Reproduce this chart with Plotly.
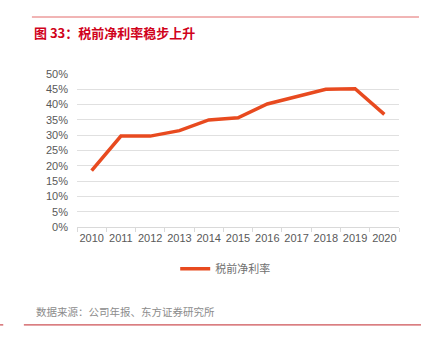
import plotly.graph_objects as go

years = ["2010", "2011", "2012", "2013", "2014", "2015", "2016", "2017", "2018", "2019", "2020"]
pretax_margin = [18.4, 29.7, 29.7, 31.5, 35.0, 35.7, 40.2, 42.6, 45.0, 45.2, 36.8]
y_ticks = [0, 5, 10, 15, 20, 25, 30, 35, 40, 45, 50]
y_tick_labels = [f"{v}%" for v in y_ticks]

FONT = "Noto Sans CJK SC, Liberation Sans, sans-serif"
NUMFONT = "Liberation Sans, Arial, sans-serif"

fig = go.Figure()
fig.add_trace(go.Scatter(
    x=years, y=pretax_margin, mode="lines", name="税前净利率",
    line=dict(color="#E84A1F", width=3.5),
))

fig.update_layout(
    width=422, height=348,
    margin=dict(l=77, r=23, t=74, b=121),
    paper_bgcolor="white", plot_bgcolor="white",
    font=dict(family=FONT, size=11, color="#595959"),
    showlegend=True,
    legend=dict(orientation="h", x=0.305, y=-0.178, xanchor="left", yanchor="top",
                font=dict(size=11, color="#707070"), bgcolor="rgba(0,0,0,0)"),
    xaxis=dict(type="category", range=[-0.5, 10.5], showgrid=False, showline=True, linecolor="#d9d9d9",
               ticks="outside", ticklen=4, tickcolor="#d9d9d9", tickson="boundaries",
               tickangle=0, ticklabelstandoff=1,
               tickfont=dict(family=NUMFONT, size=11, color="#595959")),
    yaxis=dict(range=[0, 50], tickvals=y_ticks, ticktext=y_tick_labels,
               showgrid=True, gridcolor="#e0e0e0", gridwidth=1, zeroline=False,
               showline=False, ticks="", ticklabelstandoff=8,
               tickfont=dict(family=NUMFONT, size=11, color="#595959")),
)

fig.add_annotation(text="<b>图 33：税前净利率稳步上升</b>", xref="paper", yref="paper",
                   x=-0.14, y=1.268, xanchor="left", yanchor="middle", showarrow=False,
                   font=dict(family=FONT, size=13, color="#D0021B"))
fig.add_annotation(text="数据来源：公司年报、东方证券研究所", xref="paper", yref="paper",
                   x=-0.135, y=-0.555, xanchor="left", yanchor="middle", showarrow=False,
                   font=dict(family=FONT, size=10.5, color="#8c8c8c"))

# decorative rules
fig.add_shape(type="line", xref="paper", yref="paper", x0=-0.14, x1=1.0621, y0=1.3725, y1=1.3725,
              line=dict(color="#E36B6B", width=1))
fig.add_shape(type="line", xref="paper", yref="paper", x0=-0.165, x1=1.0683, y0=-0.64, y1=-0.64,
              line=dict(color="#C0262B", width=1))
fig.add_shape(type="line", xref="paper", yref="paper", x0=-0.239, x1=-0.229, y0=-0.64, y1=-0.64,
              line=dict(color="#C0262B", width=1))

fig.write_html("out.html")
